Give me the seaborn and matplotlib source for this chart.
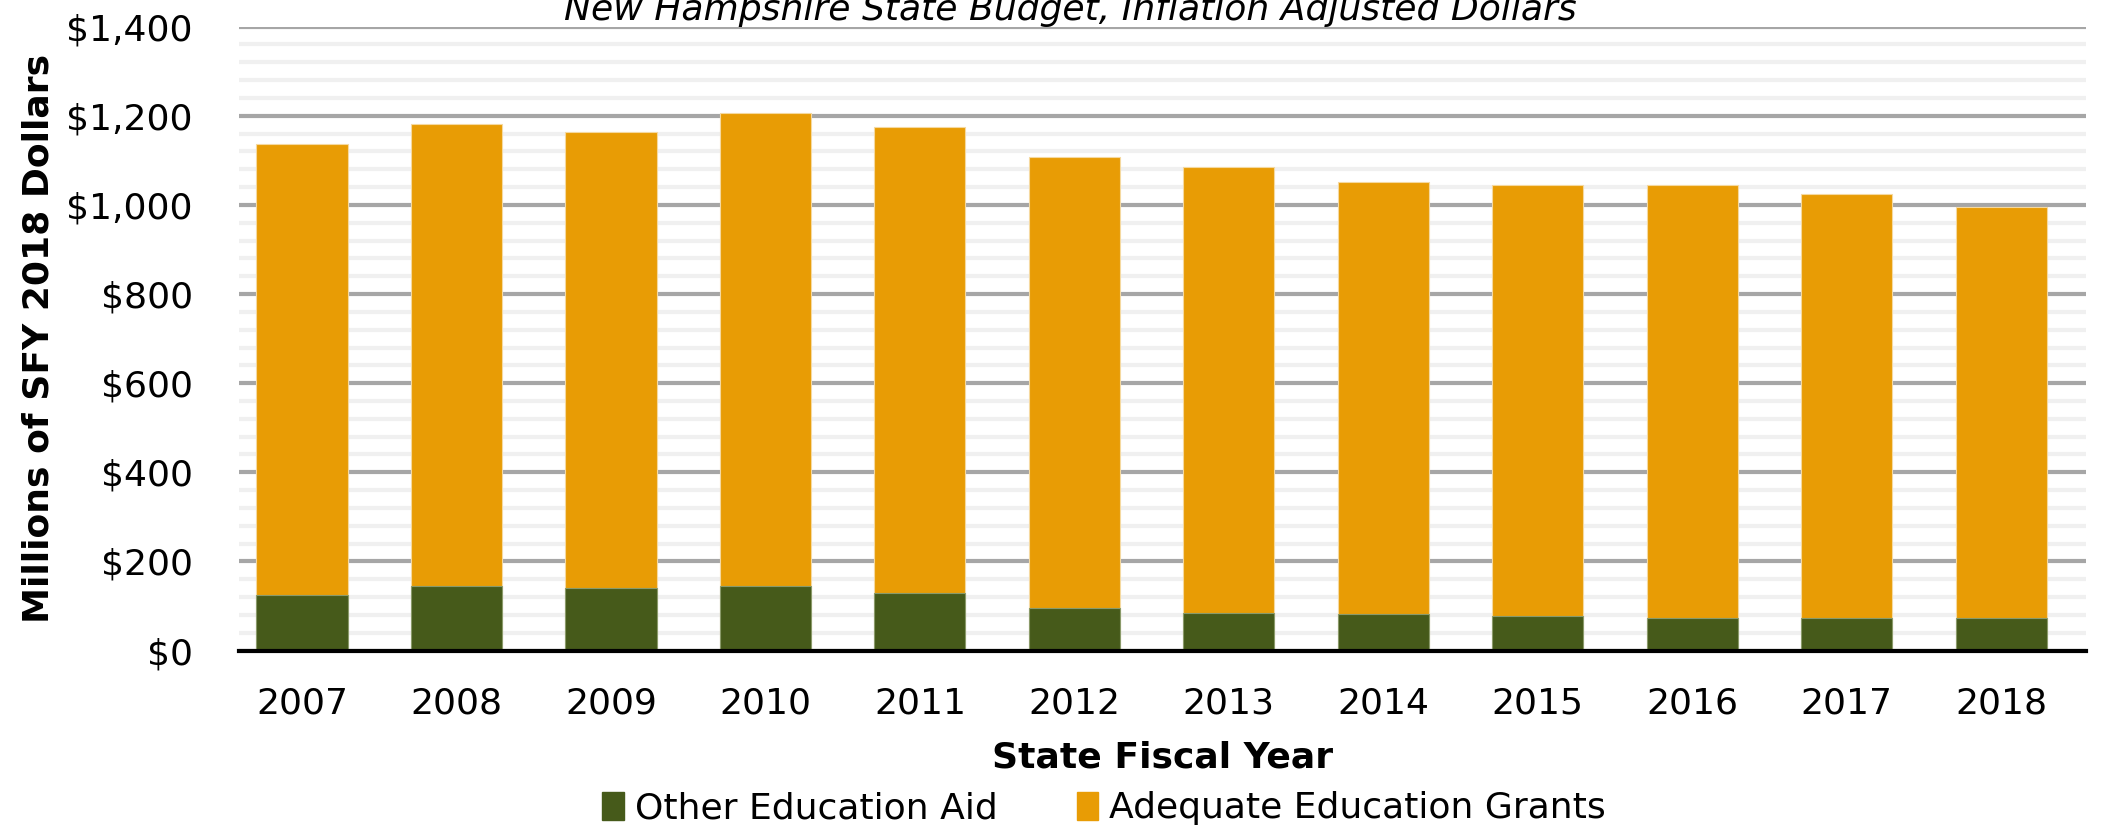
import matplotlib.pyplot as plt
import matplotlib.ticker as mticker
from matplotlib.patches import Patch
import pandas as pd
import seaborn as sns

years = ["2007", "2008", "2009", "2010", "2011", "2012",
         "2013", "2014", "2015", "2016", "2017", "2018"]
# millions of SFY 2018 dollars
other_aid = [125, 144, 140, 145, 129, 95, 84, 81, 78, 74, 74, 72]
total = [1137, 1181, 1163, 1206, 1174, 1107, 1085, 1051, 1044, 1044, 1025, 995]

green = "#465a1a"
orange = "#e89c05"

df = pd.DataFrame({"year": years, "other": other_aid, "total": total})

sns.set_style("white")
plt.rcParams['font.family'] = ['DejaVu Sans']
plt.rcParams['text.color'] = 'black'
plt.rcParams['axes.labelcolor'] = 'black'
plt.rcParams['xtick.color'] = 'black'
plt.rcParams['ytick.color'] = 'black'

fig = plt.figure(figsize=(21.03, 8.33), dpi=100)
ax = fig.add_axes([0.1135, 0.219, 0.8785, 0.749])

# stacked bars: total (orange) behind, other aid (green) in front
sns.barplot(data=df, x="year", y="total", color=orange, width=0.59,
            saturation=1, ax=ax, zorder=3, edgecolor="#f5d9a0", linewidth=0.8)
sns.barplot(data=df, x="year", y="other", color=green, width=0.59,
            saturation=1, ax=ax, zorder=4, edgecolor="#8a9a6a", linewidth=0.8)

ax.set_ylim(0, 1400)
ax.set_xlim(-0.41, 11.55)
ax.yaxis.set_major_locator(mticker.MultipleLocator(200))
ax.yaxis.set_minor_locator(mticker.MultipleLocator(40))
ax.yaxis.set_major_formatter(mticker.FuncFormatter(lambda v, p: f"${v:,.0f}"))
ax.grid(axis="y", which="major", color="#a6a6a6", linewidth=3, zorder=1)
ax.grid(axis="y", which="minor", color="#f0f0f0", linewidth=3, zorder=0)
ax.set_axisbelow(True)

for s in ["top", "right", "left"]:
    ax.spines[s].set_visible(False)
ax.spines["bottom"].set_color("black")
ax.spines["bottom"].set_linewidth(3)
ax.spines["bottom"].set_zorder(5)

ax.tick_params(axis="both", which="both", length=0, labelsize=26)
ax.tick_params(axis="y", pad=33)
ax.tick_params(axis="x", pad=26)

ax.set_xlabel("State Fiscal Year", fontsize=26, fontweight="bold", labelpad=14)
ax.set_ylabel("Millions of SFY 2018 Dollars", fontsize=26, fontweight="bold", labelpad=8)

fig.text(0.509, 0.988, "New Hampshire State Budget, Inflation Adjusted Dollars",
         ha="center", va="center", fontsize=26, style="italic")

handles = [Patch(color=green, label="Other Education Aid"),
           Patch(color=orange, label="Adequate Education Grants")]
fig.legend(handles=handles, loc="lower center", bbox_to_anchor=(0.525, -0.03),
           ncol=2, frameon=False, fontsize=26, handlelength=0.6, handleheight=0.8,
           handletextpad=0.3, columnspacing=2.2)

fig.savefig("out.png", dpi=100)
